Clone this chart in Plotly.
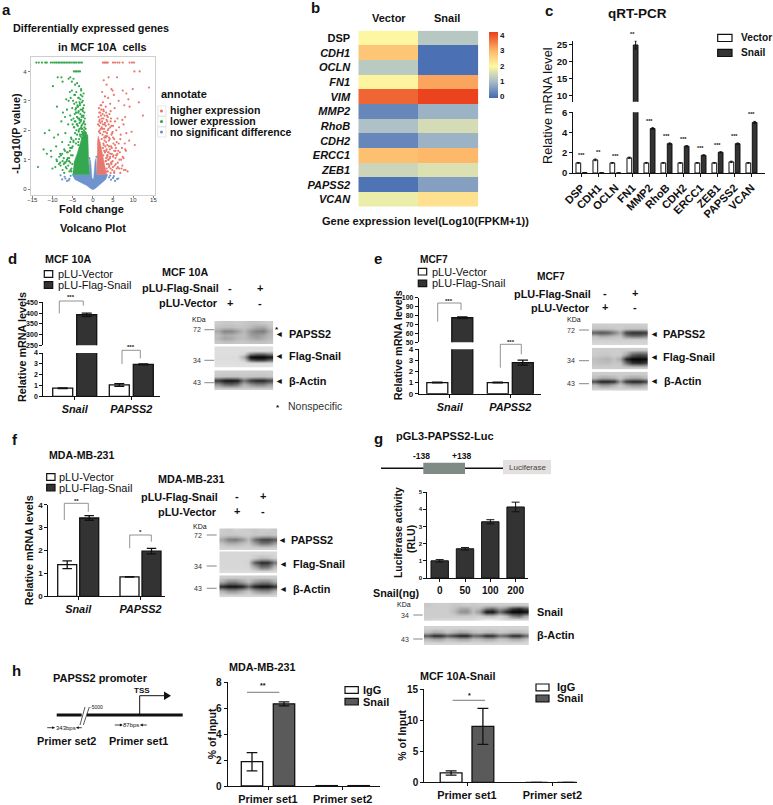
import plotly.graph_objects as go

W, H = 773, 805
FONT = "Liberation Sans"

# ---- a: volcano (hand read, the solid parts of the cloud are outlines)
green_x = [-14.0,-13.4,-12.6,-11.8,-11.4,-10.4,-9.9,-9.4,-9.0,-8.6,-8.2,-7.8,-7.4,-7.0,-6.6,-6.2,-5.8,-5.4,-4.9,-4.5,-4.1,-3.6,-3.2,-2.7,
           -4.7,-4.3,-4.0,-3.6,-3.2,-8.7,-7.8,-7.5,-9.9,-6.0,-5.6,-5.2,-4.8,-4.4,-3.9,-3.4,-2.9,-5.7,-5.2,-4.6,-4.1,-3.5,-3.0,-2.5,
           -6.6,-6.0,-5.5,-4.9,-4.3,-3.8,-3.2,-2.6,-8.9,-7.4,-6.4,-5.6,-5.1,-4.5,-3.9,-3.3,-2.7,-7.8,-6.9,-6.1,-5.3,-4.7,-4.0,-3.5,-2.9,
           -11.9,-10.8,-9.6,-8.6,-7.6,-6.8,-6.0,-5.4,-4.8,-4.2,-3.6,-12.2,-11.4,-10.4,-9.1,-8.1,-7.1,-6.4,-5.6,-5.0,-10.3,-9.0,-7.9,-7.0,-6.2,-5.5,
           -13.6,-10.0,-8.9,-8.0,-7.2,-6.5,-5.9,-5.3,-9.3,-8.4,-7.5,-6.8,-6.1]
green_y = [4.3]*24 + [4.0]*5 + [3.8,3.8,3.65,3.5,3.75,3.8,3.65,3.75,3.55,3.6,3.5,3.4,3.3,3.35,3.2,3.3,3.1,3.2,3.0,3.05,3.0,3.1,3.0,
           2.7,2.8,2.9,2.7,2.8,2.6,2.7,2.5,2.75,2.3,2.45,2.35,2.5,2.3,2.45,2.2,2.35,2.1,2.2,2.0,2.1,1.9,2.0,
           1.75,1.85,1.6,1.9,1.5,1.75,1.6,1.7,1.5,1.35,1.2,1.3,1.45,1.2,1.35,1.25,1.4,1.15,1.1,1.0,1.15,0.9,1.05,
           0.65,0.75,0.7,0.95,0.8,0.85,0.7,0.95,0.6,0.75,0.85,0.65,0.9]
green_more_x = [-2.3,-2.6,-2.9,-3.1,-3.3,-3.6,-3.8,-4.1,-4.4,-4.6,
                -2.2,-2.4,-2.7,-3.0,-3.2,-3.5,-3.7,-4.0,-4.2,-4.5,
                -2.1,-2.3,-2.5,-2.8,-3.1,-3.4,-3.6,-3.9,-4.2,-4.8,
                -2.0,-2.2,-2.4,-2.6,-2.9,-3.3,-3.6,-3.9,-4.3,-5.0,
                -1.9,-2.1,-2.3,-2.6,-2.8,-3.0,-3.3,-3.7,-4.1,-4.6,
                -1.8,-2.0,-2.2,-2.4,-2.7,-2.9,-3.2,-3.5,-3.9,-4.4,
                -1.7,-1.9,-2.1,-2.3,-2.5,-2.8,-3.1,-3.4,-4.8,-5.3,
                -1.6,-1.8,-2.0,-2.2,-2.5,-2.7,-3.6,-4.2,-5.0,-5.6,
                -5.2,-5.4,-5.7,-5.9,-6.2,-6.5,-6.9,-7.2,-7.6,-8.1,
                -5.1,-5.3,-5.6,-5.8,-6.1,-6.4,-6.7,-7.1,-7.5,-8.3]
green_more_y = [3.25,3.15,3.35,3.05,2.95,3.1,2.85,2.95,3.2,2.9,
                2.85,2.75,2.95,2.7,2.85,2.65,2.8,2.6,2.75,2.55,
                2.6,2.5,2.65,2.45,2.55,2.4,2.6,2.45,2.6,2.4,
                2.4,2.3,2.45,2.2,2.35,2.25,2.4,2.2,2.3,2.2,
                2.2,2.1,2.25,2.05,2.15,2.3,2.05,2.15,2.0,2.1,
                2.05,1.95,2.0,1.9,1.95,2.05,1.85,1.95,1.85,1.9,
                1.9,1.8,1.95,1.85,1.9,1.75,1.8,1.7,1.65,1.7,
                1.75,1.85,1.9,1.8,1.7,1.85,1.6,1.55,1.45,1.6,
                1.4,1.15,1.3,1.05,1.25,0.95,1.3,1.05,1.2,0.9,
                0.85,0.7,0.9,0.6,0.8,1.0,0.75,0.55,0.95,1.1]
red_x = [2.5,2.8,3.1,3.4,3.7,5.0,5.5,6.1,6.6,7.4,9.1,9.7,10.2,10.3,11.6,
         3.9,6.0,13.9,2.7,3.4,4.6,4.9,7.4,8.3,9.9,2.3,3.0,3.8,5.2,6.4,8.8,
         1.9,2.5,3.2,4.3,5.4,7.8,9.1,11.4,1.6,2.1,2.7,3.5,4.4,6.1,7.3,8.0,12.4,
         1.6,2.2,2.9,3.6,4.6,5.5,6.5,7.6,1.7,2.4,3.1,3.9,4.8,5.8,6.9,8.3,9.6,
         2.8,3.5,4.2,5.0,5.9,6.8,7.9,9.0,10.4,2.7,3.3,4.0,4.7,5.5,6.3,7.2,8.2,
         3.0,3.6,4.3,5.0,5.8,6.6,7.6,3.2,3.9,4.6,5.4,6.2,7.1,3.5,4.4,5.3]
red_y = [4.3]*13 + [4.0,4.0,
         3.8,3.8,3.45,3.7,3.55,3.4,3.35,3.35,3.25,3.4,3.3,3.15,3.1,3.2,3.0,3.05,
         2.85,2.95,2.8,2.9,2.75,2.85,2.8,2.95,2.6,2.7,2.65,2.5,2.65,2.4,2.35,2.45,2.5,
         2.3,2.4,2.2,2.3,2.15,2.3,2.1,2.2,2.0,2.05,1.95,2.05,1.9,2.0,1.85,1.9,1.95,
         1.75,1.8,1.7,1.75,1.6,1.7,1.55,1.65,1.5,1.5,1.6,1.45,1.4,1.5,1.3,1.4,1.3,
         1.25,1.15,1.2,1.1,1.15,1.0,1.05,0.95,0.85,0.9,0.8,0.75,0.7,0.6,0.7,0.55]
red_more_x = [1.5,1.8,2.1,2.4,2.6,2.9,3.3,3.7,4.1,4.5,
              1.4,1.7,2.0,2.3,2.6,3.0,3.4,3.9,4.4,5.0,
              1.3,1.6,1.9,2.2,2.5,2.8,3.2,3.7,4.3,4.9,
              1.5,1.8,2.0,2.4,2.7,3.1,3.5,4.0,4.6,5.3,
              2.2,2.6,2.9,3.2,3.6,4.0,4.5,5.1,5.7,6.4,
              2.5,2.8,3.1,3.4,3.8,4.2,4.7,5.3,5.9,6.7,
              2.6,3.0,3.3,3.6,3.9,4.3,4.9,5.6,6.2,7.0,
              3.2,3.5,3.8,4.1,4.5,5.0,5.7,6.5,7.3,8.1,
              3.4,3.7,4.0,4.4,4.8,5.3,5.9,6.8,7.7,8.6,
              3.3,3.6,3.9,4.2,4.6,5.1,5.6,6.1,7.4,8.0]
red_more_y = [2.75,2.6,2.85,2.55,2.7,2.5,2.6,2.45,2.55,2.4,
              2.45,2.35,2.5,2.3,2.4,2.25,2.35,2.2,2.3,2.15,
              2.2,2.15,2.25,2.1,2.2,2.05,2.15,2.0,2.1,1.95,
              1.95,1.9,2.05,1.85,1.95,1.8,1.9,1.75,1.85,1.7,
              1.7,1.55,1.65,1.75,1.5,1.65,1.45,1.55,1.4,1.55,
              1.4,1.3,1.45,1.35,1.25,1.35,1.2,1.3,1.15,1.25,
              1.15,1.25,1.05,1.15,1.0,1.1,0.95,1.05,0.9,1.0,
              0.95,0.85,1.0,0.8,0.9,0.75,0.85,0.7,0.8,0.65,
              0.7,0.6,0.75,0.55,0.65,0.6,0.7,0.55,0.65,0.6,
              1.3,1.1,1.25,1.05,0.85,1.15,1.3,1.2,1.1,1.35]
blue_x = [-7.6,-7.0,-6.4,-5.8,-5.5,-8.0,-6.8,-6.0,4.0,4.5,5.0,5.5,6.0,6.3,4.3,5.2,-0.9,0.9]
blue_y = [0.33,0.42,0.28,0.35,0.45,0.47,0.36,0.3,0.4,0.32,0.38,0.28,0.34,0.36,0.46,0.44,1.05,1.1]
green_cloud_x = [-5.0,-0.85,-1.05,-1.25,-2.5,-3.0,-3.9,-4.7]
green_cloud_y = [0.5,0.5,1.0,1.85,1.85,1.6,1.2,0.9]
red_cloud_x = [1.0,3.4,2.8,2.4,1.8,1.3,1.1]
red_cloud_y = [0.5,0.5,0.9,1.2,1.6,1.8,1.5]
blue_cloud_x = [-5.2,-0.85,-0.8,-0.55,-0.2,0.2,0.55,0.8,1.0,3.7,3.2,1.5,0.6,0.0,-0.6,-1.5,-3.0,-4.5]
blue_cloud_y = [0.5,0.5,1.05,0.95,0.35,0.35,0.95,1.05,0.5,0.5,0.33,0.12,0.02,-0.02,0.02,0.12,0.22,0.33]

# ---- b: heatmap
genes_b = ["DSP","CDH1","OCLN","FN1","VIM","MMP2","RhoB","CDH2","ERCC1","ZEB1","PAPSS2","VCAN"]
vector_fpkm = [2.0,2.8,1.2,2.05,3.85,0.3,1.05,0.3,2.9,1.4,0.05,1.8]
snail_fpkm = [1.15,0.0,0.0,3.2,4.2,0.85,1.5,0.85,3.0,1.6,0.6,2.35]

# ---- c: qRT-PCR
genes_c = ["DSP","CDH1","OCLN","FN1","MMP2","RhoB","CDH2","ERCC1","ZEB1","PAPSS2","VCAN"]
vector_qpcr = [1.0,1.3,1.0,1.5,1.0,1.0,1.0,1.0,1.0,1.1,1.0]
vector_err = [0.04,0.08,0.03,0.07,0.04,0.03,0.03,0.03,0.03,0.07,0.03]
snail_qpcr = [0.03,0.01,0.0,24.8,4.4,2.9,2.65,1.75,2.05,2.9,5.0]
snail_err = [0.01,0.0,0.0,1.2,0.08,0.07,0.06,0.05,0.05,0.06,0.1]
stars_c = ["***","**","***","**","***","***","***","***","***","***","***"]

# ---- d, e, f: two-gene bars
genes_df = ["Snail","PAPSS2"]
d_vector = [0.75,1.05]
d_vector_err = [0.03,0.12]
d_flag = [392,2.95]
d_flag_err = [8,0.05]
e_vector = [1.0,1.0]
e_vector_err = [0.03,0.03]
e_flag = [77.5,2.8]
e_flag_err = [1,0.22]
f_vector = [1.38,0.85]
f_vector_err = [0.17,0.01]
f_flag = [3.42,1.97]
f_flag_err = [0.1,0.12]

# ---- g: luciferase
snail_ng = ["0","50","100","200"]
luc_rlu = [1.0,1.7,3.27,4.13]
luc_err = [0.07,0.07,0.12,0.28]

# ---- h: ChIP
primer_sets = ["Primer set1","Primer set2"]
h1_igg = [1.87,0.03]
h1_igg_err = [0.7,0.0]
h1_snail = [6.32,0.03]
h1_snail_err = [0.15,0.0]
h2_igg = [1.5,0.0]
h2_igg_err = [0.35,0.0]
h2_snail = [9.0,0.0]
h2_snail_err = [2.9,0.0]

# ---- western blots, grey levels read row by row
blot_d_papss2 = [[205,200,200,205,200,195,195,200,205],[195,190,190,195,195,185,170,165,195],[170,135,135,160,185,150,130,125,175],
                 [190,170,175,185,190,160,150,165,185],[185,165,170,185,190,175,165,175,190],[200,195,195,200,200,195,195,195,200]]
blot_d_flag = [[222,222,222,222,222,222,222,222,222],[222,222,222,222,222,222,222,222,222],[222,222,222,222,215,130,100,100,130],
               [220,220,220,220,170,5,0,0,15],[222,222,222,222,205,90,60,60,100],[224,224,224,224,224,224,224,224,224],[226,226,226,226,226,226,226,226,226]]
blot_d_actin = [[205,205,205,205,205,205,205,205,205],[200,195,195,195,200,198,195,195,200],[60,25,20,30,120,60,40,40,70],
                [150,110,100,120,180,150,130,130,160],[205,205,205,205,205,205,205,205,205]]
blot_e_papss2 = [[205,205,205,205,205,205,205,205,205],[195,195,195,200,205,195,195,195,195],[100,85,95,130,170,70,50,50,60],
                 [190,170,175,190,195,130,110,110,130],[205,205,205,205,205,205,205,205,205],[215,215,215,215,215,215,215,215,215]]
blot_e_flag = [[205,205,205,205,205,205,205,205,205],[205,200,200,205,205,170,100,80,90],[190,185,180,195,170,40,5,5,10],
               [195,190,190,200,195,110,50,40,60],[205,205,205,205,205,205,205,205,205]]
blot_e_actin = [[205,205,205,205,205,205,205,205,205],[190,170,170,180,200,175,165,165,185],[70,25,25,40,150,50,25,25,55],
                [185,150,150,175,200,170,150,150,175],[210,210,210,210,210,210,210,210,210]]
blot_f_papss2 = [[205,200,210,205,205,200,205,205,200],[200,200,200,205,205,200,200,195,200],[165,125,120,145,190,110,70,65,90],
                 [195,175,175,190,200,160,120,120,160],[210,210,210,210,210,210,210,210,210]]
blot_f_flag = [[215,215,215,215,215,215,215,215,215],[215,215,215,215,215,205,190,195,210],[215,215,215,215,210,90,40,45,120],
               [215,215,215,215,215,170,110,120,190],[220,220,220,220,220,220,220,220,220]]
blot_f_actin = [[205,205,205,205,205,205,205,205,205],[170,130,130,160,190,150,130,130,170],[40,15,15,30,100,30,15,15,50],
                [180,150,150,175,200,160,140,140,180],[215,215,215,215,215,215,215,215,215]]
blot_g_snail = [[200,205,205,205,200,200,205,200,205,205,205,205,205,205,205,205],[205,205,205,205,195,170,165,195,185,130,110,160,130,60,40,80],
                [205,205,205,205,190,150,145,190,150,25,20,110,45,5,5,15],[205,205,205,205,205,200,200,205,205,190,185,210,190,130,110,170],
                [210,215,215,215,215,215,215,215,225,235,235,225,215,215,215,215]]
blot_g_actin = [[210,210,210,210,210,210,210,210,210,210,210,210,210,210,210,210],[190,170,175,195,180,165,170,190,195,185,185,200,195,185,185,195],
                [85,40,40,90,60,30,30,100,90,40,40,110,90,40,40,100],[185,165,165,190,180,165,165,190,185,170,170,195,190,170,170,195],
                [215,215,215,215,215,215,215,215,215,215,215,215,215,215,215,215]]

DARK = "#333333"
GREY = "#5a5a5a"
TXT = 10.9
fig = go.Figure()
layout = {}
annotations = []
shapes = []
axis_n = 1


def add_axes(x0, x1, ytop, ybot, xaxis, yaxis):
    global axis_n
    axis_n += 1
    n = axis_n
    layout[f"xaxis{n}"] = dict(domain=[x0/W, x1/W], anchor=f"y{n}", **xaxis)
    layout[f"yaxis{n}"] = dict(domain=[1-ybot/H, 1-ytop/H], anchor=f"x{n}", **yaxis)
    return f"x{n}", f"y{n}"


def txt(x, y, s, size=TXT, bold=True, italic=False, anchor="center", angle=0, color="#111111"):
    if italic:
        s = f"<i>{s}</i>"
    if bold:
        s = f"<b>{s}</b>"
    annotations.append(dict(x=x/W, y=1-y/H, xref="paper", yref="paper", text=s, showarrow=False,
                            xanchor=anchor, yanchor="middle", textangle=angle,
                            font=dict(family=FONT, size=size, color=color)))


def line(x0, y0, x1, y1, width=1, color="#111111"):
    shapes.append(dict(type="line", xref="paper", yref="paper", x0=x0/W, y0=1-y0/H, x1=x1/W, y1=1-y1/H,
                       line=dict(width=width, color=color)))


def rect(x0, y0, x1, y1, fill, width=1.2, color="#111111"):
    shapes.append(dict(type="rect", xref="paper", yref="paper", x0=x0/W, y0=1-y0/H, x1=x1/W, y1=1-y1/H,
                       fillcolor=fill, line=dict(width=width, color=color)))


def bracket(x0, y0, ytop, x1, y1, stars, star_y):
    line(x0, y0, x0, ytop, 0.8, "#777777")
    line(x0, ytop, x1, ytop, 0.8, "#777777")
    line(x1, ytop, x1, y1, 0.8, "#777777")
    txt((x0+x1)/2, star_y, stars, size=6)


def y_style(vals, size=8, rng=None):
    return dict(range=rng, tickvals=vals, ticks="outside", ticklen=3, tickwidth=1.1, showline=True, linewidth=1.2,
                linecolor="#111111", tickcolor="#111111", showgrid=False, zeroline=False,
                tickfont=dict(family=FONT, size=size, color="#111111", weight="bold"))


def x_style(x0, x1, c0, sp, size=TXT, italic=False, angle=0):
    return dict(type="category", range=[(x0-c0)/sp, (x1-c0)/sp], ticks="outside", ticklen=3, tickwidth=1.1,
                showline=True, linewidth=1.2, linecolor="#111111", tickcolor="#111111", showgrid=False,
                zeroline=False, tickangle=angle,
                tickfont=dict(family=FONT, size=size, color="#111111", weight="bold",
                              style="italic" if italic else "normal"))


def pair_bars(xa, ya, cats, a, a_err, b, b_err, sp, w, gap, color=DARK, lw=1.3):
    for vals, errs, fill, off in ((a, a_err, "white", -(gap/2+w)/sp), (b, b_err, color, gap/2/sp)):
        fig.add_trace(go.Bar(x=cats, y=vals, xaxis=xa, yaxis=ya, width=w/sp, offset=off, showlegend=False,
                             marker=dict(color=fill, line=dict(color="#111111", width=lw)),
                             error_y=dict(type="data", array=errs, visible=True, color="#111111",
                                          thickness=lw, width=w*0.25)))


def blot(x0, x1, ytop, ybot, grey):
    xa, ya = add_axes(x0, x1, ytop, ybot, dict(visible=False), dict(visible=False, autorange="reversed"))
    fig.add_trace(go.Heatmap(z=grey, xaxis=xa, yaxis=ya, zmin=0, zmax=255, zsmooth="best", showscale=False,
                             colorscale=[[0, "black"], [1, "white"]], hoverinfo="skip"))


def two_line_legend(x0, x1, y1, y2, h, tx, first, second, size=11, bold=False, fill=DARK):
    rect(x0, y1, x1, y1+h, "white")
    rect(x0, y2, x1, y2+h, fill)
    txt(tx, y1+h/2, first, size=size, bold=bold, anchor="left")
    txt(tx, y2+h/2, second, size=size, bold=bold, anchor="left")


def kda(x, lx0, lx1, pairs):
    for lab, y in pairs:
        txt(x, y, lab, size=7, bold=False, color="#333333")
        line(lx0, y, lx1, y, 0.7, "#555555")


def blot_label(tri_x, tx, y, s):
    txt(tri_x, y, "◀", size=6)
    txt(tx, y, s, size=TXT, anchor="left")


# ---------- a ----------
txt(6, 9, "a", size=15)
txt(90.7, 28, "Differentially expressed genes", size=10.8)
txt(102, 47, "in MCF 10A  cells", size=10.8)
txt(15.7, 133, "-Log10(P value)", size=10.8, angle=-90)
txt(91.7, 209, "Fold change", size=11)
txt(92.7, 228, "Volcano Plot", size=11)
xa, ya = add_axes(30.7, 155, 56.7, 195,
                  dict(range=[-15.4, 15.4], tickvals=[-15,-10,-5,0,5,10,15], ticks="outside", ticklen=2, tickcolor="#888888",
                       showgrid=False, zeroline=False, showline=True, mirror=True, linecolor="#cfcfcf", linewidth=1,
                       ticklabelstandoff=-3, tickfont=dict(family=FONT, size=6, color="#333333")),
                  dict(range=[-0.2, 4.5], tickvals=[0,1,2,3,4], ticks="outside", ticklen=2, tickcolor="#888888",
                       showgrid=False, zeroline=False, showline=True, mirror=True, linecolor="#cfcfcf", linewidth=1,
                       tickfont=dict(family=FONT, size=6, color="#333333")))
for cx, cy, col in ((blue_cloud_x, blue_cloud_y, "#6f93cc"), (green_cloud_x, green_cloud_y, "#35a84f"), (red_cloud_x, red_cloud_y, "#e8776d")):
    fig.add_trace(go.Scatter(x=cx, y=cy, xaxis=xa, yaxis=ya, mode="lines", fill="toself", fillcolor=col,
                             line=dict(width=0.5, color=col), showlegend=False, hoverinfo="skip"))
for px_, py_, col in ((blue_x, blue_y, "#6f93cc"), (green_x, green_y, "#35a84f"), (green_more_x, green_more_y, "#35a84f"),
                      (red_x, red_y, "#e8776d"), (red_more_x, red_more_y, "#e8776d")):
    fig.add_trace(go.Scatter(x=px_, y=py_[:len(px_)], xaxis=xa, yaxis=ya, mode="markers", showlegend=False,
                             marker=dict(size=2.2, color=col)))
txt(158.7, 94, "annotate", size=11, anchor="left")
for y, s, col in ((111, "higher expression", "#e8776d"), (121.5, "lower expression", "#35a84f"), (132, "no significant difference", "#6f93cc")):
    rect(157.7, y-5, 166, y+5, "white", 0.7, "#dddddd")
    shapes.append(dict(type="circle", xref="paper", yref="paper", x0=159.9/W, x1=163.1/W, y0=1-(y+1.5)/H, y1=1-(y-1.5)/H,
                       fillcolor=col, line=dict(width=0)))
    txt(168, y-0.5, s, size=10.5, anchor="left")

# ---------- b ----------
txt(315, 8, "b", size=15)
txt(389.3, 18.3, "Vector", size=11)
txt(446.7, 18, "Snail", size=11)
txt(425.7, 220.7, "Gene expression level(Log10(FPKM+1))", size=11)
labels_b = [g if g == "DSP" else f"<i>{g}</i>" for g in genes_b]
xa, ya = add_axes(358.3, 478.3, 30.7, 206.7,
                  dict(showticklabels=False, ticks="", showgrid=False, zeroline=False),
                  dict(autorange="reversed", ticks="outside", ticklen=5, tickcolor="white", showgrid=False, zeroline=False,
                       tickfont=dict(family=FONT, size=11, color="#111111", weight="bold")))
fig.add_trace(go.Heatmap(x=["Vector","Snail"], y=labels_b, z=[list(r) for r in zip(vector_fpkm, snail_fpkm)],
                         xaxis=xa, yaxis=ya, zmin=-0.1, zmax=4.25,
                         colorscale=[[0,"#4168b2"],[0.25,"#a9bdc8"],[0.48,"#fdf8a3"],[0.71,"#fdb96b"],[1,"#e93e1a"]],
                         colorbar=dict(x=489.3/W, xanchor="left", y=1-31.7/H, yanchor="top", lenmode="pixels", len=66,
                                       thicknessmode="pixels", thickness=9, outlinewidth=0, tickvals=[0,1,2,3,4], ticks="",
                                       xpad=0, ypad=0, tickfont=dict(family=FONT, size=8, color="#111111", weight="bold"))))

# ---------- c ----------
txt(549, 10.7, "c", size=15)
txt(637.7, 13.3, "qRT-PCR", size=13.5)
txt(548, 106, "Relative mRNA level", size=12.8, bold=False, angle=-90)
two_line_legend(717.7, 732, 34.3, 49.3, 7.2, 739, "Vector", "Snail", size=10.2, bold=True)
cx = x_style(573.3, 765, 581.5, 17, size=11, angle=-45)
xa, ya = add_axes(573.3, 765, 112.3, 173, cx, y_style([0,2,4,6], size=9.5, rng=[0, 6]))
xa_up, ya_up = add_axes(573.3, 765, 40.7, 101.7, dict(cx, visible=False), y_style([10,15,20,25], size=9.5, rng=[8.12, 26.06]))
pair_bars(xa, ya, genes_c, vector_qpcr, vector_err, snail_qpcr, snail_err, 17, 4.7, 1.6, lw=1)
pair_bars(xa_up, ya_up, genes_c, vector_qpcr, vector_err, snail_qpcr, snail_err, 17, 4.7, 1.6, lw=1)
for g, star, a, ae, b, be in zip(genes_c, stars_c, vector_qpcr, vector_err, snail_qpcr, snail_err):
    top = max(a+ae, b+be)
    annotations.append(dict(x=g, y=top, xref=xa_up if top > 6 else xa, yref=ya_up if top > 6 else ya, text=f"<b>{star}</b>",
                            showarrow=False, yshift=7, font=dict(family=FONT, size=5.5, color="#111111")))

# ---------- d ----------
txt(12, 258, "d", size=15)
txt(43.3, 259.3, "MCF 10A", size=10.8, anchor="left")
two_line_legend(44.3, 52.7, 270.7, 281.7, 6.6, 55.7, "pLU-Vector", "pLU-Flag-Snail")
txt(22, 347, "Relative mRNA levels", size=10.8, angle=-90)
dx = x_style(43.3, 160, 74.7, 56.6, italic=True)
xa, ya = add_axes(43.3, 160, 353, 396.3, dx, y_style([0,1,2,3,4], size=7, rng=[0, 4]))
xa_up, ya_up = add_axes(43.3, 160, 302.3, 345.3, dict(dx, visible=False), y_style([250,300,350,400,450], size=7, rng=[250, 450]))
pair_bars(xa, ya, genes_df, d_vector, d_vector_err, d_flag, d_flag_err, 56.6, 20, 4)
pair_bars(xa_up, ya_up, genes_df, d_vector, d_vector_err, d_flag, d_flag_err, 56.6, 20, 4)
bracket(59.3, 313.3, 301, 83.3, 305.7, "***", 297)
bracket(122, 364, 350.3, 140.3, 358.3, "***", 347)
txt(185, 271.7, "MCF 10A", size=10.8)
for s, y, right, a, b in (("pLU-Flag-Snail", 288.3, 221, "-", "+"), ("pLU-Vector", 302.7, 220, "+", "-")):
    txt(right, y, s, anchor="right")
    txt(230, y, a, size=11)
    txt(259.5, y, b, size=11)
blot(214.3, 273.3, 321, 344.3, blot_d_papss2)
blot(214.3, 273.3, 346.3, 367.7, blot_d_flag)
blot(214.3, 273.3, 370.3, 390, blot_d_actin)
txt(199.3, 319, "KDa", size=7, bold=False)
kda(197.3, 204.3, 214, (("72", 329.7), ("34", 360.3), ("43", 382.7)))
blot_label(279.3, 287.3, 334.3, "PAPSS2")
blot_label(278.5, 287.3, 356, "Flag-Snail")
blot_label(278.5, 287.3, 380.7, "β-Actin")
txt(276.7, 329, "*", size=8)
txt(277.7, 407.5, "*", size=8)
txt(286, 406, "Nonspecific", size=10.5, bold=False, anchor="left", color="#333333")

# ---------- e ----------
txt(378, 259, "e", size=15)
txt(417.7, 260, "MCF7", size=10.2, anchor="left")
two_line_legend(418.3, 426.7, 268.3, 280, 6.7, 430, "pLU-Vector", "pLU-Flag-Snail")
txt(398.3, 345, "Relative mRNA levels", size=10.8, angle=-90)
ex = x_style(419, 541, 449.8, 60.5, italic=True)
xa, ya = add_axes(419, 541, 349.3, 393.7, ex, y_style([0,1,2,3,4], size=8, rng=[0, 4]))
xa_up, ya_up = add_axes(419, 541, 297.7, 342.3, dict(ex, visible=False), y_style([50,60,70,80,90,100], size=7, rng=[50, 100]))
pair_bars(xa, ya, genes_df, e_vector, e_vector_err, e_flag, e_flag_err, 60.5, 21, 4)
pair_bars(xa_up, ya_up, genes_df, e_vector, e_vector_err, e_flag, e_flag_err, 60.5, 21, 4)
bracket(437.7, 321.7, 303, 461, 310, "***", 300.7)
bracket(500.3, 367.7, 344.3, 521.3, 354.3, "***", 341.7)
txt(551, 276, "MCF7", size=10.2)
for s, y, right, a, b in (("pLU-Flag-Snail", 294, 592.7, "-", "+"), ("pLU-Vector", 308.3, 591.7, "+", "-")):
    txt(right, y, s, anchor="right")
    txt(605.3, y-1, a, size=11)
    txt(634.7, y-1, b, size=11)
blot(592, 647.7, 323.3, 345, blot_e_papss2)
blot(592, 647.7, 347.7, 369.3, blot_e_flag)
blot(592, 647.7, 371.7, 390.7, blot_e_actin)
txt(573.7, 319.7, "KDa", size=7, bold=False)
kda(571.3, 579, 589, (("72", 330), ("34", 360.7), ("43", 383.7)))
blot_label(654, 660.7, 334.3, "PAPSS2")
blot_label(654, 661.3, 356.7, "Flag-Snail")
blot_label(654, 662, 380.7, "β-Actin")

# ---------- f ----------
txt(15, 439, "f", size=15)
txt(47.3, 455, "MDA-MB-231", size=10.6, anchor="left")
two_line_legend(46.7, 55, 473.7, 484.3, 6.7, 57.3, "pLU-Vector", "pLU-Flag-Snail")
txt(29.3, 550, "Relative mRNA levels", size=10.8, angle=-90)
xa, ya = add_axes(48.3, 165, 504.7, 596.3, x_style(48.3, 165, 78.2, 62.3, italic=True), y_style([0,1,2,3,4], size=8, rng=[0, 4]))
pair_bars(xa, ya, genes_df, f_vector, f_vector_err, f_flag, f_flag_err, 62.3, 19, 3)
bracket(64.3, 520, 503.3, 88.3, 511.7, "**", 500.7)
bracket(129.7, 548.3, 535, 151.3, 541.7, "*", 532)
txt(191, 478.7, "MDA-MB-231", size=10.8)
for s, y, right, a, b in (("pLU-Flag-Snail", 497.3, 220, "-", "+"), ("pLU-Vector", 511.7, 219, "+", "-")):
    txt(right, y, s, anchor="right")
    txt(237, y-1, a, size=11)
    txt(262.7, y-1, b, size=11)
blot(219.3, 277.3, 528.3, 550, blot_f_papss2)
blot(219.3, 277.3, 551.3, 573.3, blot_f_flag)
blot(219.3, 277.3, 575.3, 597.3, blot_f_actin)
txt(200.3, 526, "KDa", size=7, bold=False)
kda(198.5, 206.7, 216.7, (("72", 535), ("34", 566), ("43", 588.3)))
blot_label(282.3, 289.3, 539.7, "PAPSS2")
blot_label(283.3, 290.7, 563.7, "Flag-Snail")
blot_label(283.3, 290.7, 589, "β-Actin")

# ---------- g ----------
txt(378, 438, "g", size=15)
txt(445, 436, "pGL3-PAPSS2-Luc", size=11)
txt(421, 456, "-138", size=8.5)
txt(461.3, 456, "+138", size=8.5)
line(381, 468.3, 503, 468.3, 1.4)
rect(423.3, 462.7, 465, 474, "#7f8c85", 0)
rect(503, 460, 551, 474.3, "#e5e0e0", 0)
txt(527, 467.3, "Luciferase", size=8, bold=False, color="#444444")
txt(398.3, 532.7, "Luciferase activity", size=10.4, angle=-90)
txt(411, 539, "(RLU)", size=10.4, angle=-90)
xa, ya = add_axes(427.3, 528.3, 492, 578, x_style(427.3, 528.3, 439.7, 25.3, size=10), y_style([0,1,2,3,4,5], size=6, rng=[0, 5]))
fig.add_trace(go.Bar(x=snail_ng, y=luc_rlu, xaxis=xa, yaxis=ya, width=17.4/25.3, showlegend=False,
                     marker=dict(color=DARK, line=dict(color="#111111", width=1)),
                     error_y=dict(type="data", array=luc_err, color="#111111", thickness=1, width=4)))
txt(422, 593.3, "Snail(ng)", size=10.8, anchor="right")
blot(424, 528.7, 602.7, 621, blot_g_snail)
blot(424, 528.7, 626, 645, blot_g_actin)
txt(404, 604.3, "KDa", size=7, bold=False)
kda(404.5, 413.3, 422.7, (("34", 615), ("43", 639)))
txt(534.7, 612, "Snail", anchor="left")
txt(535.3, 634.7, "β-Actin", anchor="left")

# ---------- h ----------
txt(16, 670, "h", size=15)
txt(100, 678.3, "PAPSS2 promoter", size=11)
line(56.7, 715, 81.7, 715, 3)
line(86.7, 715, 182.7, 715, 3)
line(80, 725, 85, 707, 0.7)
line(83.3, 725, 89.3, 707, 0.7)
txt(96, 707.3, "-5000", size=5, bold=False)
txt(142.3, 690.3, "TSS", size=8)
line(139.7, 715, 139.7, 695.7, 1)
line(139.7, 695.7, 166, 695.7, 1)
shapes.append(dict(type="path", xref="paper", yref="paper", fillcolor="#111111", line=dict(width=0),
                   path=f"M {164/W} {1-691.5/H} L {171/W} {1-695.7/H} L {164/W} {1-699.9/H} Z"))
txt(65.5, 727.7, "343bps", size=6, bold=False)
txt(131, 725, "87bps", size=6, bold=False)
for tail, head, y in ((45.7, 55, 727.7), (83.3, 76, 727.7), (113.3, 122.7, 725), (148.3, 140, 725)):
    annotations.append(dict(x=head/W, y=1-y/H, xref="paper", yref="paper", ax=tail-head, ay=0, text="", showarrow=True,
                            arrowhead=2, arrowsize=0.7, arrowwidth=0.8, arrowcolor="#111111"))
txt(66, 740.7, "Primer set2", size=10.9)
txt(138.3, 740.7, "Primer set1", size=10.9)

txt(262.7, 667.3, "MDA-MB-231", size=10.8)
txt(212.3, 734, "% of Input", size=10.5, angle=-90)
xa, ya = add_axes(227.7, 380, 682, 786, x_style(227.7, 380, 268, 74.7), y_style([0,2,4,6,8], size=10, rng=[0, 8]))
pair_bars(xa, ya, primer_sets, h1_igg, h1_igg_err, h1_snail, h1_snail_err, 74.7, 21.4, 10.6, color=GREY)
line(247, 692.3, 279.3, 692.3, 0.8, "#555555")
txt(262.7, 685.7, "**", size=7)
two_line_legend(345, 358.3, 686.7, 698.3, 6.7, 360.7, "IgG", "Snail", size=11, bold=True, fill=GREY)

txt(458.3, 675.7, "MCF 10A-Snail", size=10.8)
txt(401.7, 735, "% of Input", size=10.5, angle=-90)
xa, ya = add_axes(424.3, 576.7, 689, 782.3, x_style(424.3, 576.7, 467, 85.4), y_style([0,5,10,15], size=10, rng=[0, 15]))
pair_bars(xa, ya, primer_sets, h2_igg, h2_igg_err, h2_snail, h2_snail_err, 85.4, 21.8, 10, color=GREY)
line(452.7, 700.3, 485, 700.3, 0.8, "#555555")
txt(469, 695.7, "*", size=7)
two_line_legend(536, 549, 684, 695, 6.8, 555, "IgG", "Snail", size=11, bold=True, fill=GREY)

fig.update_layout(width=W, height=H, autosize=False, margin=dict(l=0, r=0, t=0, b=0), template="none",
                  paper_bgcolor="white", plot_bgcolor="white", barmode="overlay", showlegend=False,
                  annotations=annotations, shapes=shapes, font=dict(family=FONT), **layout)
fig.write_html("out.html", config={"displayModeBar": False}, post_script="document.body.style.margin='0';")
